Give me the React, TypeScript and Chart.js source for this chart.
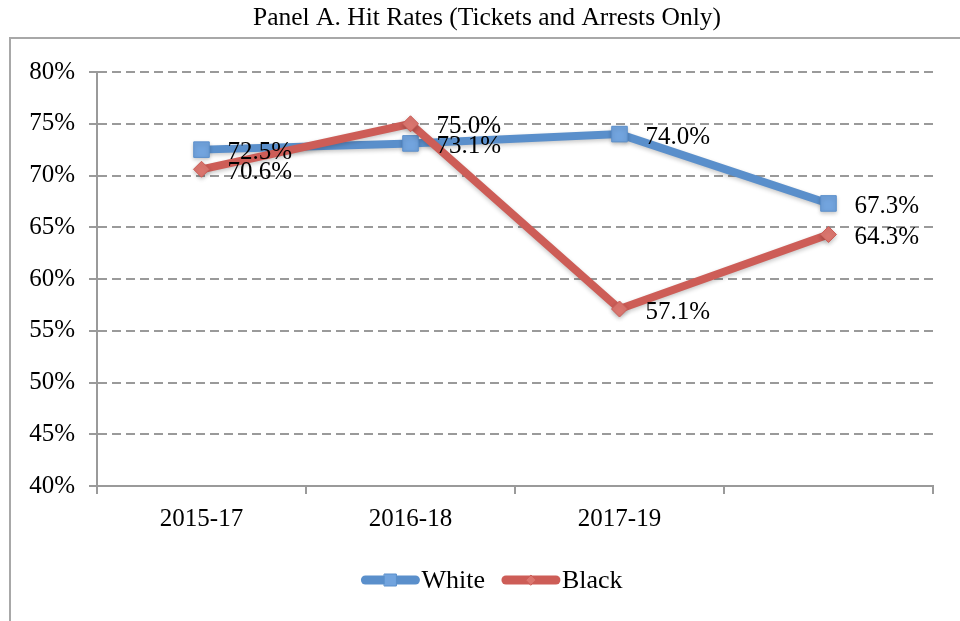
import { useEffect, useRef } from "react";
import { Chart, registerables } from "chart.js";

Chart.register(...registerables);

// Chart content
const chartTitle = "Panel A. Hit Rates (Tickets and Arrests Only)";
const categories = ["2015-17", "2016-18", "2017-19", ""];
const whiteRates = [72.5, 73.1, 74.0, 67.3];
const blackRates = [70.6, 75.0, 57.1, 64.3];
const yMin = 40;
const yMax = 80;
const yStep = 5;

const FONT = "'Liberation Serif', 'Times New Roman', serif";
const BLUE = "#5A8FCB";
const BLUE_LIGHT = "#72A4DE";
const RED = "#CD5D57";
const RED_LIGHT = "#DB766F";
const GRID = "#9a9a9a";

const decorPlugin = {
  id: "decor",
  beforeDraw(chart: any) {
    const { ctx, width, height } = chart;
    ctx.save();
    ctx.fillStyle = "#ffffff";
    ctx.fillRect(0, 0, width, height);
    // outer frame (left and top edges visible)
    ctx.strokeStyle = "#a8a8a8";
    ctx.lineWidth = 2;
    ctx.beginPath();
    ctx.moveTo(10, height + 10);
    ctx.lineTo(10, 38);
    ctx.lineTo(width + 10, 38);
    ctx.stroke();
    // title
    ctx.fillStyle = "#000";
    ctx.font = `25.5px ${FONT}`;
    ctx.textAlign = "center";
    ctx.textBaseline = "middle";
    ctx.fillText(chartTitle, 487, 18);
    ctx.restore();
  },
  beforeDatasetsDraw(chart: any) {
    const ctx = chart.ctx;
    ctx.save();
    ctx.shadowColor = "rgba(0,0,0,0.22)";
    ctx.shadowBlur = 4;
    ctx.shadowOffsetY = 2;
  },
  afterDatasetsDraw(chart: any) {
    const ctx = chart.ctx;
    ctx.restore();
    // value labels to the right of each point
    ctx.save();
    ctx.fillStyle = "#000";
    ctx.font = `25px ${FONT}`;
    ctx.textAlign = "left";
    ctx.textBaseline = "middle";
    chart.data.datasets.forEach((ds: any, i: number) => {
      const meta = chart.getDatasetMeta(i);
      meta.data.forEach((pt: any, j: number) => {
        const v = ds.data[j];
        ctx.fillText(v.toFixed(1) + "%", pt.x + 26, pt.y + 3);
      });
    });
    ctx.restore();
  },
  afterDraw(chart: any) {
    const { ctx } = chart;
    ctx.save();
    ctx.font = `26px ${FONT}`;
    ctx.textBaseline = "middle";
    ctx.textAlign = "left";
    const items = [
      { label: "White", color: BLUE, fill: BLUE_LIGHT, style: "rect" },
      { label: "Black", color: RED, fill: RED_LIGHT, style: "rectRot" },
    ];
    const sampleW = 58;
    const textGap = 2;
    const itemGap = 17;
    const widths = items.map((it) => sampleW + textGap + ctx.measureText(it.label).width);
    const total = widths.reduce((a, b) => a + b, 0) + itemGap * (items.length - 1);
    let x = 492 - total / 2;
    const y = 580;
    items.forEach((it, i) => {
      ctx.strokeStyle = it.color;
      ctx.lineWidth = 9;
      ctx.lineCap = "round";
      ctx.beginPath();
      ctx.moveTo(x + 4, y);
      ctx.lineTo(x + sampleW - 4, y);
      ctx.stroke();
      const cx = x + sampleW / 2;
      ctx.fillStyle = it.fill;
      ctx.strokeStyle = it.color;
      ctx.lineWidth = 1;
      ctx.beginPath();
      if (it.style === "rect") {
        ctx.rect(cx - 6, y - 6, 12, 12);
      } else {
        ctx.moveTo(cx - 5, y);
        ctx.lineTo(cx, y - 5);
        ctx.lineTo(cx + 5, y);
        ctx.lineTo(cx, y + 5);
        ctx.closePath();
      }
      ctx.fill();
      ctx.stroke();
      ctx.fillStyle = "#000";
      ctx.fillText(it.label, x + sampleW + textGap, y + 1);
      x += widths[i] + itemGap;
    });
    ctx.restore();
  },
};

export default function App() {
  const canvasRef = useRef<HTMLCanvasElement | null>(null);

  useEffect(() => {
    const canvas = canvasRef.current;
    if (!canvas) return;
    const chart = new Chart(canvas, {
      type: "line",
      data: {
        labels: categories,
        datasets: [
          {
            label: "White",
            data: whiteRates,
            borderColor: BLUE,
            backgroundColor: BLUE,
            borderWidth: 8,
            pointStyle: "rect",
            pointRadius: 11,
            pointBackgroundColor: BLUE_LIGHT,
            pointBorderColor: BLUE,
            pointBorderWidth: 1,
            tension: 0,
            order: 2,
          },
          {
            label: "Black",
            data: blackRates,
            borderColor: RED,
            backgroundColor: RED,
            borderWidth: 8,
            pointStyle: "rectRot",
            pointRadius: 8,
            pointBackgroundColor: RED_LIGHT,
            pointBorderColor: RED,
            pointBorderWidth: 1,
            tension: 0,
            order: 1,
          },
        ],
      },
      options: {
        responsive: false,
        animation: false,
        events: [],
        layout: { padding: { top: 72, left: 0, right: 27, bottom: 0 } },
        plugins: {
          legend: { display: false },
          title: { display: false },
          tooltip: { enabled: false },
        },
        scales: {
          x: {
            offset: true,
            grid: {
              offset: true,
              drawOnChartArea: false,
              drawTicks: true,
              tickLength: 8,
              color: GRID,
              lineWidth: 2,
            },
            border: { display: true, color: GRID, width: 2 },
            ticks: {
              color: "#000",
              font: { family: FONT, size: 25 },
              padding: 10,
              maxRotation: 0,
              autoSkip: false,
            },
            afterFit(scale: any) {
              scale.height = 135;
            },
          },
          y: {
            min: yMin,
            max: yMax,
            ticks: {
              stepSize: yStep,
              color: "#000",
              font: { family: FONT, size: 25 },
              padding: 14,
              callback: (v: any) => v + "%",
            },
            grid: {
              color: GRID,
              lineWidth: 2,
              drawTicks: true,
              tickLength: 8,
              tickColor: GRID,
            },
            border: { display: true, color: GRID, width: 2, dash: [9, 5] },
            afterFit(scale: any) {
              scale.width = 97;
            },
          },
        },
      },
      plugins: [decorPlugin],
    });
    return () => chart.destroy();
  }, []);

  return (
    <div style={{ position: "absolute", left: 0, top: 0, width: 960, height: 621, background: "#fff" }}>
      <canvas ref={canvasRef} width={960} height={621} />
    </div>
  );
}
